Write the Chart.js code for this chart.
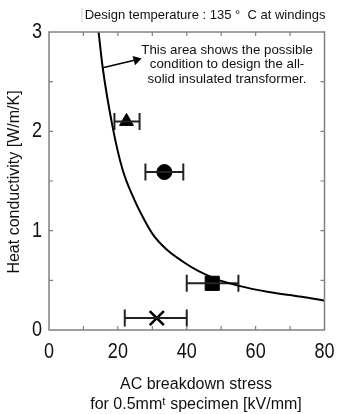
<!DOCTYPE html>
<html>
<head>
<meta charset="utf-8">
<script src="https://cdn.jsdelivr.net/npm/chart.js@4"></script>
<style>
  html, body { margin: 0; padding: 0; background: #fff; }
  #wrap { width: 337px; height: 414px; }
</style>
</head>
<body>
<div id="wrap"><canvas id="chart" width="337" height="414"></canvas></div>
<script>
// boundary curve (design limit)
const curveX = [14.4, 15.6, 18.5, 21.4, 24.8, 27.2, 30.1, 34.0, 38.8, 43.6, 48.4, 54.9, 63.8, 73.4, 80.0];
const curveY = [3.0, 2.64, 2.04, 1.61, 1.31, 1.14, 0.965, 0.815, 0.69, 0.59, 0.515, 0.447, 0.383, 0.335, 0.295];

// measured specimens
const markerStyles = ['triangle', 'circle', 'rect', 'crossRot'];
const stressMean = [22.5, 33.5, 47.4, 31.3];
const stressLow = [19.0, 28.0, 40.0, 22.0];
const stressHigh = [26.3, 39.0, 55.0, 40.0];
const conductivity = [2.10, 1.59, 0.47, 0.12];

// arrow pointing into the allowed area
const arrowX = [15.6, 25.4];
const arrowY = [2.64, 2.72];

const xTickValues = [0, 20, 40, 60, 80];
const xTickLabels = ['0', '20', '40', '60', '80'];
const yTickValues = [0, 1, 2, 3];
const yTickLabels = ['0', '1', '2', '3'];

const titleText = 'Design temperature : 135 \u00b0  C at windings';
const noteLines = ['This area shows the possible', 'condition to design the all-', 'solid insulated transformer.'];
const yTitle = 'Heat conductivity [W/m/K]';
const xTitle = ['AC breakdown stress', 'for 0.5mm\u1d57 specimen [kV/mm]'];

const textFont = "Arial, 'Liberation Sans', sans-serif";

// datasets
const datasets = [];
datasets.push({
    data: curveX.map((x, i) => ({ x: x, y: curveY[i] })),
    showLine: true, borderColor: '#000', borderWidth: 2, pointRadius: 0,
    cubicInterpolationMode: 'monotone'
});
datasets.push({
    data: arrowX.map((x, i) => ({ x: x, y: arrowY[i] })),
    showLine: true, borderColor: '#000', backgroundColor: '#000', borderWidth: 1.5,
    pointRadius: [0, 4], pointStyle: 'triangle', rotation: 75
});
stressMean.forEach((m, i) => {
    datasets.push({
        data: [{ x: stressLow[i], y: conductivity[i] }, { x: stressHigh[i], y: conductivity[i] }],
        showLine: true, borderColor: '#222', borderWidth: 2,
        pointStyle: 'line', rotation: 90, pointRadius: 8.5, pointBorderWidth: 2
    });
});
datasets.push({
    data: stressMean.map((x, i) => ({ x: x, y: conductivity[i] })),
    showLine: false,
    pointStyle: markerStyles,
    pointRadius: [8, 7.5, 10, 10],
    backgroundColor: '#000', borderColor: '#000', pointBorderWidth: [1, 1, 1, 2.5]
});

// frame, inward ticks, tick labels, texts
const decor = {
    id: 'decor',
    afterDraw(chart) {
        const ctx = chart.ctx;
        const a = chart.chartArea;
        const xs = chart.scales.x, ys = chart.scales.y;
        ctx.save();
        ctx.strokeStyle = '#808080';
        ctx.lineWidth = 1.5;
        ctx.strokeRect(a.left, a.top, a.right - a.left, a.bottom - a.top);
        ctx.lineWidth = 1.2;
        ctx.beginPath();
        for (let v = 10; v < 80; v += 10) {
            const px = xs.getPixelForValue(v);
            ctx.moveTo(px, a.bottom); ctx.lineTo(px, a.bottom - 4);
            ctx.moveTo(px, a.top); ctx.lineTo(px, a.top + 4);
        }
        for (let v = 0.5; v < 3; v += 0.5) {
            const py = ys.getPixelForValue(v);
            ctx.moveTo(a.left, py); ctx.lineTo(a.left + 4, py);
            ctx.moveTo(a.right, py); ctx.lineTo(a.right - 4, py);
        }
        ctx.stroke();

        // condensed tick numbers
        ctx.fillStyle = '#111';
        ctx.textBaseline = 'middle';
        ctx.font = '22px ' + textFont;
        ctx.textAlign = 'center';
        xTickValues.forEach((v, i) => {
            ctx.save();
            ctx.translate(xs.getPixelForValue(v), a.bottom + 22);
            ctx.scale(0.82, 1);
            ctx.fillText(xTickLabels[i], 0, 0);
            ctx.restore();
        });
        ctx.textAlign = 'right';
        yTickValues.forEach((v, i) => {
            ctx.save();
            ctx.translate(a.left - 7, ys.getPixelForValue(v));
            ctx.scale(0.82, 1);
            ctx.fillText(yTickLabels[i], 0, 0);
            ctx.restore();
        });

        ctx.font = '13px ' + textFont;
        ctx.textAlign = 'right';
        ctx.fillText(titleText, a.right + 1, 15);
        ctx.strokeStyle = '#ccc';
        ctx.lineWidth = 1;
        ctx.beginPath(); ctx.moveTo(82, 8); ctx.lineTo(82, 22); ctx.stroke();

        ctx.textAlign = 'center';
        ctx.font = '13.3px ' + textFont;
        const nx = xs.getPixelForValue(51.7);
        [2.82, 2.67, 2.52].forEach((v, i) => {
            ctx.fillText(noteLines[i], nx, ys.getPixelForValue(v));
        });

        ctx.font = '16px ' + textFont;
        xTitle.forEach((t, i) => ctx.fillText(t, 196, 385 + i * 20));
        ctx.translate(15, (a.top + a.bottom) / 2 + 1);
        ctx.rotate(-Math.PI / 2);
        ctx.fillText(yTitle, 0, 0);
        ctx.restore();
    }
};

new Chart(document.getElementById('chart'), {
    type: 'scatter',
    data: { datasets: datasets },
    options: {
        responsive: false,
        animation: false,
        layout: { padding: { top: 32, right: 11, left: 0, bottom: 0 } },
        plugins: { legend: { display: false }, tooltip: { enabled: false } },
        scales: {
            x: {
                type: 'linear', min: 0, max: 80,
                grid: { display: false }, border: { display: false },
                afterFit(s) { s.height = 84; },
                ticks: { display: false }
            },
            y: {
                type: 'linear', min: 0, max: 3,
                grid: { display: false }, border: { display: false },
                afterFit(s) { s.width = 49; },
                ticks: { display: false }
            }
        }
    },
    plugins: [decor]
});
</script>
</body>
</html>
